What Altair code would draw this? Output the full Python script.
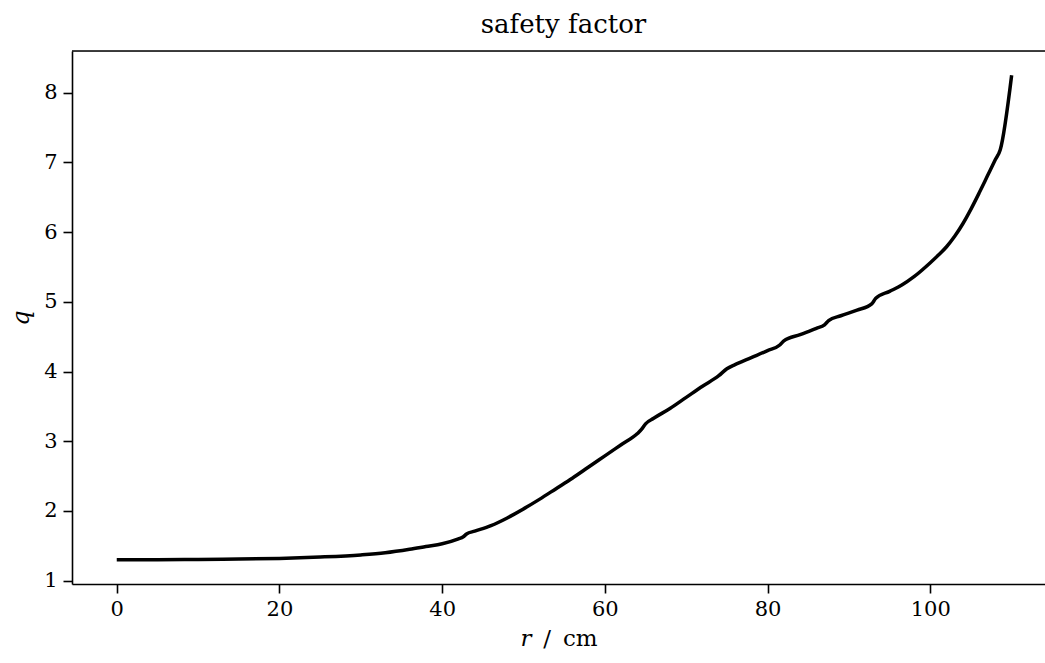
import altair as alt
import pandas as pd

r_cm = [0, 5, 10, 15, 20, 25, 30, 33, 36, 38, 40, 42, 42.6, 43.0, 44, 46, 48, 50,
        52, 54, 56, 58, 60, 62, 64, 64.5, 65, 66, 68, 70, 72, 74, 75, 76, 78, 80,
        81.5, 82, 84, 86, 87, 87.5, 89, 91, 92.8, 93.3, 95, 96.5, 98, 100, 101,
        102, 103, 104, 105, 106, 107, 108, 108.6, 110]
q_vals = [1.30, 1.30, 1.305, 1.31, 1.32, 1.34, 1.37, 1.40, 1.45, 1.49, 1.53, 1.60,
          1.63, 1.67, 1.71, 1.79, 1.90, 2.03, 2.17, 2.32, 2.47, 2.63, 2.79, 2.95,
          3.11, 3.17, 3.25, 3.33, 3.47, 3.63, 3.79, 3.94, 4.04, 4.10, 4.20, 4.30,
          4.38, 4.44, 4.53, 4.62, 4.67, 4.73, 4.80, 4.88, 4.97, 5.05, 5.15, 5.24,
          5.36, 5.56, 5.67, 5.79, 5.94, 6.12, 6.33, 6.56, 6.80, 7.04, 7.18, 8.25]

x_ticks = [0, 20, 40, 60, 80, 100]
y_ticks = [1, 2, 3, 4, 5, 6, 7, 8]

df = pd.DataFrame({"r": r_cm, "q": q_vals})

FONT = "DejaVu Serif"
W, H = 973, 533

line = alt.Chart(df).mark_line(color="black", strokeWidth=3.5, interpolate="monotone").encode(
    x=alt.X("r:Q",
            scale=alt.Scale(domain=[-5.5, 114.1], nice=False, zero=False),
            axis=alt.Axis(values=x_ticks, title="𝑟 \u2009/\u2009 cm", grid=False,
                          domainColor="black", domainWidth=1.6,
                          tickColor="black", tickWidth=1.6, tickSize=9,
                          labelFont=FONT, labelFontSize=21, labelColor="black",
                          labelPadding=5, titleFont=FONT, titleFontSize=23,
                          titleFontWeight="normal", titleColor="black",
                          titlePadding=8)),
    y=alt.Y("q:Q",
            scale=alt.Scale(domain=[0.9525, 8.5975], nice=False, zero=False),
            axis=alt.Axis(values=y_ticks, title="q", grid=False,
                          domainColor="black", domainWidth=1.6,
                          tickColor="black", tickWidth=1.6, tickSize=9,
                          labelFont=FONT, labelFontSize=21, labelColor="black",
                          labelPadding=6, titleFont=FONT, titleFontSize=24,
                          titleFontStyle="italic", titleFontWeight="normal",
                          titleColor="black", titlePadding=10)),
)

top_spine = alt.Chart(pd.DataFrame({"a": [0]})).mark_rule(color="black", strokeWidth=1.6).encode(
    x=alt.value(0), x2=alt.value(W), y=alt.value(0)
)

chart = alt.layer(line, top_spine).properties(
    width=W, height=H,
    title=alt.TitleParams("safety factor", font=FONT, fontSize=26, fontWeight="normal",
                          color="black", offset=12, dx=5),
    autosize=alt.AutoSizeParams(type="none"),
    padding={"left": 72, "top": 51, "right": 0, "bottom": 79},
).configure_view(stroke=None).configure(background="white")

chart.save("out.html", embed_options={"renderer": "svg", "actions": False})
